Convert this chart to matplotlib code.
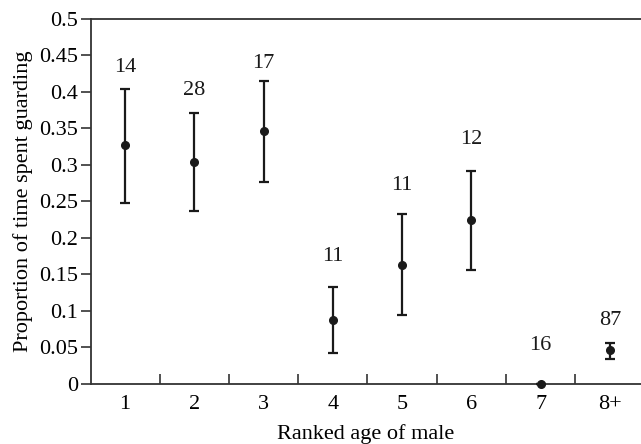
import numpy as np
import matplotlib
matplotlib.use('Agg')
from matplotlib import pyplot as plt

# donnees
ages = ['1', '2', '3', '4', '5', '6', '7', '8+']
moyenne = [0.327, 0.304, 0.346, 0.088, 0.163, 0.224, 0.0, 0.046]
haut = [0.403, 0.371, 0.415, 0.133, 0.232, 0.291, 0.0, 0.056]
bas = [0.248, 0.237, 0.277, 0.042, 0.095, 0.156, 0.0, 0.034]
effectifs = ['14', '28', '17', '11', '11', '12', '16', '87']
ecart_etiquette = [0.017, 0.017, 0.011, 0.029, 0.026, 0.030, 0.040, 0.018]

plt.rcParams['font.family'] = ['Liberation Serif', 'DejaVu Serif']
plt.rcParams['font.size'] = 16

x = np.arange(1, len(ages) + 1)
m = np.array(moyenne)
err = [m - np.array(bas), np.array(haut) - m]

fig = plt.figure(figsize=(6.41, 4.44), dpi=100)
ax = fig.add_axes([90.5 / 641, 1 - 384 / 444, 1 - 90.5 / 641, (384 - 18.5) / 444])

ax.errorbar(x, m, yerr=err, fmt='o', color='#1a1a1a', ms=5.5, lw=1.6,
            capsize=3.5, capthick=1.6, clip_on=False, zorder=3)

for xi, h, n, g in zip(x, haut, effectifs, ecart_etiquette):
    ax.text(xi, h + g, n, ha='center', va='bottom', color='#1a1a1a')

ax.set_xlim(0.5, 8.45)
ax.set_ylim(0, 0.5)
ax.set_yticks(np.arange(0, 0.501, 0.05))
ax.set_yticklabels(['0', '0.05', '0.1', '0.15', '0.2', '0.25', '0.3', '0.35', '0.4', '0.45', '0.5'])
ax.set_xticks(x)
ax.set_xticklabels(ages)
ax.set_xticks(np.arange(1.5, 8, 1), minor=True)
ax.tick_params(axis='x', which='major', length=0, pad=8)
ax.tick_params(axis='x', which='minor', direction='in', length=7, width=1.2, color='#333333')
ax.tick_params(axis='y', direction='out', length=7, width=1.2, color='#333333', pad=2)

ax.spines['right'].set_visible(False)
for s in ['left', 'bottom', 'top']:
    ax.spines[s].set_linewidth(1.3)
    ax.spines[s].set_color('#333333')

ax.set_xlabel('Ranked age of male', labelpad=7)
ax.set_ylabel('Proportion of time spent guarding', labelpad=4)

plt.savefig('out.png', dpi=100)
